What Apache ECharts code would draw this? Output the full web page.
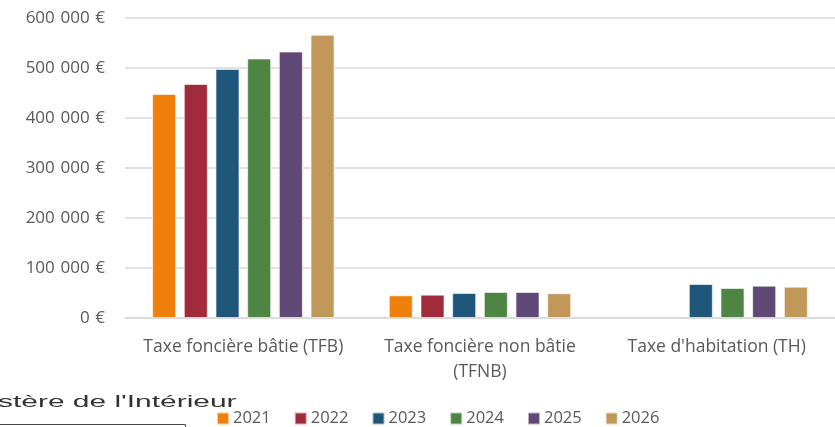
<!DOCTYPE html>
<html><head><meta charset="utf-8">
<script src="https://cdn.jsdelivr.net/npm/echarts@6/dist/echarts.min.js"></script>
<style>html,body{margin:0;padding:0;background:#fff}#c{width:835px;height:427px}</style>
</head><body><div id="c"></div>
<script>
const categories = ["Taxe foncière bâtie (TFB)", "Taxe foncière non bâtie\n(TFNB)", "Taxe d'habitation (TH)"];
const years = ["2021", "2022", "2023", "2024", "2025", "2026"];
const v2021 = [448000, 45400, null];
const v2022 = [468000, 46600, null];
const v2023 = [498000, 50000, 68000];
const v2024 = [519000, 52000, 60000];
const v2025 = [533000, 52000, 64600];
const v2026 = [566500, 49400, 62600];
const yTicks = [0, 100000, 200000, 300000, 400000, 500000, 600000];
const colors = ["#F0800C", "#A02B3A", "#1F577B", "#4F8543", "#604877", "#C1975A"];
const seriesValues = [v2021, v2022, v2023, v2024, v2025, v2026];

const fmt = v => (v === 0 ? "0" : String(v).replace(/\B(?=(\d{3})+(?!\d))/g, "\u2004")) + "\u2004€";

const chart = echarts.init(document.getElementById('c'), null, {renderer: 'canvas'});
chart.setOption({
  animation: false,
  color: colors,
  textStyle: {fontFamily: "Open Sans"},
  grid: {left: 125, top: 18, width: 712, bottom: 109, containLabel: false},
  legend: {
    data: years, top: 405, left: 211, itemWidth: 12, itemHeight: 12, itemGap: 23,
    icon: 'rect', textStyle: {fontSize: 16.5, color: '#595959', fontFamily: 'Open Sans', padding: [0,0,0,-1]}
  },
  xAxis: {
    type: 'category', data: categories,
    axisLine: {lineStyle: {color: '#d9d9d9', width: 1.5}},
    axisTick: {show: false},
    axisLabel: {fontSize: 17.5, color: '#595959', margin: 17, lineHeight: 25, interval: 0}
  },
  yAxis: {
    type: 'value', min: yTicks[0], max: yTicks[yTicks.length-1], interval: 100000,
    axisLine: {show: false}, axisTick: {show: false},
    splitLine: {lineStyle: {color: '#d9d9d9', width: 1.5}},
    axisLabel: {fontSize: 17, color: '#595959', margin: 20, formatter: fmt}
  },
  series: years.map((y, i) => ({
    name: y, type: 'bar', data: seriesValues[i], barWidth: 24, barGap: '32%',
    itemStyle: {color: colors[i], borderColor: 'rgba(255,255,255,0.6)', borderWidth: 1}
  })),
  graphic: [
    {type: 'text', left: -2, top: 395, scaleX: 1.87, style: {text: "stère de l'Intérieur", fontFamily: 'Liberation Sans', fontSize: 16, fill: '#333', fontWeight: 'normal'}},
    {type: 'polyline', shape: {points: [[0, 424.5], [185.5, 424.5], [185.5, 430]]}, style: {stroke: '#444', lineWidth: 1, fill: null}}
  ]
});
</script></body></html>
